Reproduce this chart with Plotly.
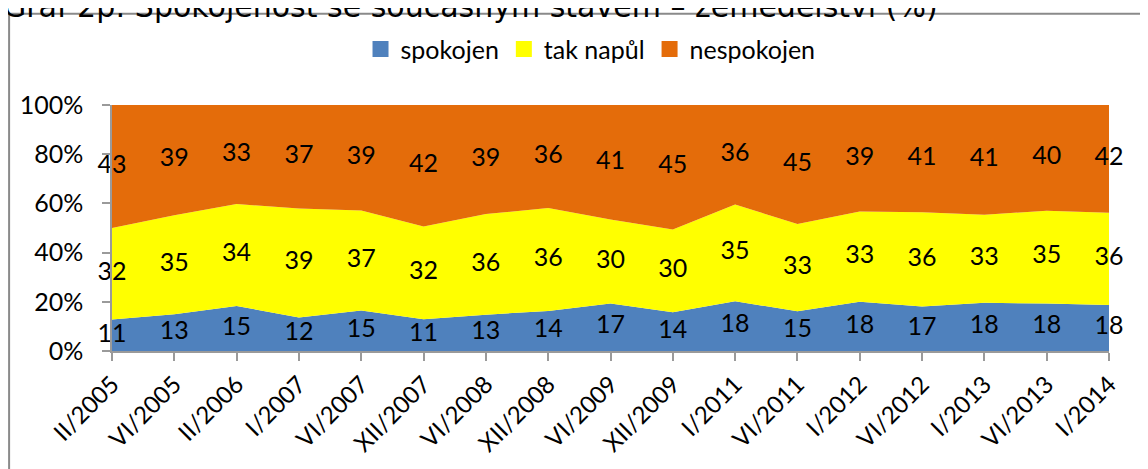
import plotly.graph_objects as go
import numpy as np

categories = ["II/2005", "VI/2005", "II/2006", "I/2007", "VI/2007", "XII/2007", "VI/2008",
              "XII/2008", "VI/2009", "XII/2009", "I/2011", "VI/2011", "I/2012", "VI/2012",
              "I/2013", "VI/2013", "I/2014"]
spokojen = [11, 13, 15, 12, 15, 11, 13, 14, 17, 14, 18, 15, 18, 17, 18, 18, 18]
tak_napul = [32, 35, 34, 39, 37, 32, 36, 36, 30, 30, 35, 33, 33, 36, 33, 35, 36]
nespokojen = [43, 39, 33, 37, 39, 42, 39, 36, 41, 45, 36, 45, 39, 41, 41, 40, 42]
series_names = ["spokojen", "tak napůl", "nespokojen"]
colors = ["#4F81BD", "#FFFF00", "#E46C0A"]
y_ticks = [0, 20, 40, 60, 80, 100]
title_text = "Graf 2p: Spokojenost se současným stavem – zemědělství (%)"

OFF = 8  # page body margin
W, H = 1148 - OFF, 469 - OFF
# plot area in screen pixels: x 111..1109, y 105..356
ML = 111 - OFF
MT = 105 - OFF
MR = 1148 - 1109
MB = 469 - 356
PW, PH = W - ML - MR, H - MT - MB

def px(xs):
    return (xs - OFF - ML) / PW

def py(ys):
    return (H - MB - (ys - OFF)) / PH

FONT = "Lato, 'Open Sans', sans-serif"
series = [spokojen, tak_napul, nespokojen]

fig = go.Figure()
for name, vals, col in zip(series_names, series, colors):
    fig.add_trace(go.Scatter(
        x=categories, y=vals, name=name, mode="lines",
        stackgroup="one", groupnorm="percent",
        line=dict(width=0, color=col), fillcolor=col,
        hoverinfo="skip", showlegend=False,
    ))

# legend-only square markers
for name, col in zip(series_names, colors):
    fig.add_trace(go.Scatter(
        x=[None], y=[None], name=name, mode="markers",
        marker=dict(symbol="square", size=16, color=col), showlegend=True,
    ))

# label positions: middle of each stacked band (percent of total)
arr = np.array(series, dtype=float)
tot = arr.sum(axis=0)
pct = arr / tot * 100
cum = np.cumsum(pct, axis=0)
for i, vals in enumerate(series):
    mid = cum[i] - pct[i] / 2
    fig.add_trace(go.Scatter(
        x=categories, y=mid, mode="text", text=[str(v) for v in vals],
        textposition="middle center", textfont=dict(family=FONT, size=25, color="black"),
        showlegend=False, hoverinfo="skip", cliponaxis=False,
    ))

fig.update_layout(
    width=W, height=H,
    margin=dict(l=ML, r=MR, t=MT, b=MB, pad=0),
    paper_bgcolor="white", plot_bgcolor="white",
    font=dict(family=FONT, size=24, color="black"),
    showlegend=True,
    legend=dict(orientation="h", x=px(590), xanchor="center", y=py(48), yanchor="middle",
                font=dict(family=FONT, size=25, color="black"), traceorder="normal",
                itemwidth=30, bgcolor="rgba(0,0,0,0)", tracegroupgap=0),
    xaxis=dict(
        type="category", range=[0, len(categories) - 1], showgrid=False,
        showline=True, linecolor="#9a9a9a", linewidth=1.5,
        ticks="outside", ticklen=8, tickcolor="#9a9a9a", tickwidth=1.5,
        tickangle=-45, tickfont=dict(family=FONT, size=24, color="black"),
        zeroline=False,
    ),
    yaxis=dict(
        range=[0, 100], tickvals=y_ticks, ticktext=[f"{v}%" for v in y_ticks],
        showgrid=False, showline=True, linecolor="#9a9a9a", linewidth=1.5,
        ticks="outside", ticklen=8, tickcolor="#9a9a9a", tickwidth=1.5,
        tickfont=dict(family=FONT, size=25, color="black"), ticklabelstandoff=14,
        zeroline=False,
    ),
)

# chart border (extends beyond the visible window)
fig.add_shape(type="line", xref="paper", yref="paper", x0=px(8), x1=px(1148 + 20), y0=py(12), y1=py(12),
              line=dict(color="#8a8a8a", width=2))
fig.add_shape(type="line", xref="paper", yref="paper", x0=px(8), x1=px(8), y0=py(12), y1=py(469 + 20),
              line=dict(color="#8a8a8a", width=2))

fig.add_annotation(text=title_text, xref="paper", yref="paper", x=px(0), y=py(4),
                   xanchor="left", yanchor="middle", showarrow=False,
                   font=dict(family="DejaVu Sans", size=30, color="black"))

fig.write_html("out.html")
